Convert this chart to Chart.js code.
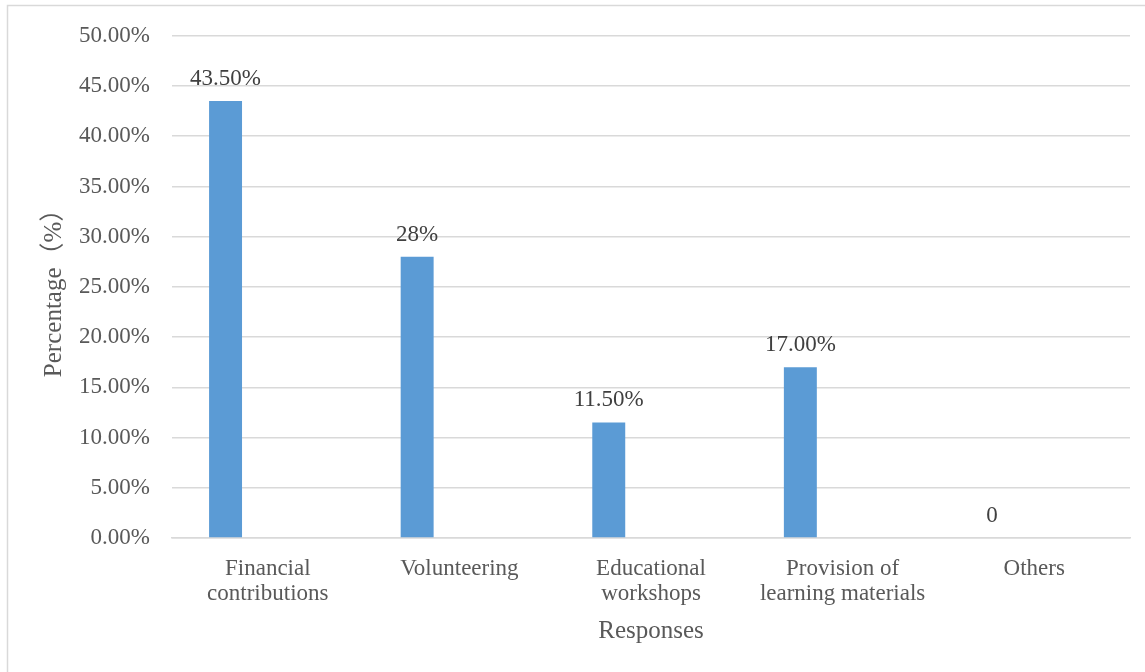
<!DOCTYPE html>
<html>
<head>
<meta charset="utf-8">
<title>Responses</title>
<script src="https://cdn.jsdelivr.net/npm/chart.js@4.4.1/dist/chart.umd.min.js"></script>
<style>
  html, body { margin: 0; padding: 0; background: #ffffff; }
  #wrap { position: relative; width: 1145px; height: 672px; }
</style>
</head>
<body>
<div id="wrap"><canvas id="chart" width="1145" height="672"></canvas></div>
<script>
// Response categories (multi-line labels as drawn under the axis)
const categories = [
  ['Financial', 'contributions'],
  ['Volunteering'],
  ['Educational', 'workshops'],
  ['Provision of', 'learning materials'],
  ['Others']
];
// Share of respondents per response, in percent
const percentages = [43.5, 28, 11.5, 17, 0];
// Value labels printed above each bar
const valueLabels = ['43.50%', '28%', '11.50%', '17.00%', '0'];
// Second, empty series kept in the group so the bars sit left of centre
const emptySeries = [null, null, null, null, null];

const serif = "'Liberation Serif', 'Times New Roman', 'Noto Sans CJK SC', serif";
const tickGrey = '#595959';
const gridGrey = '#d9d9d9';

// Writes the value label above each bar of the first dataset
const barValueLabels = {
  id: 'barValueLabels',
  afterDatasetsDraw(chart) {
    const ctx = chart.ctx;
    const meta = chart.getDatasetMeta(0);
    ctx.save();
    ctx.font = '23px ' + serif;
    ctx.fillStyle = '#404040';
    ctx.textAlign = 'center';
    ctx.textBaseline = 'alphabetic';
    meta.data.forEach((bar, i) => {
      ctx.fillText(valueLabels[i], bar.x, bar.y - 16);
    });
    ctx.restore();
  }
};

// Thin frame along the top and left edges of the chart
const chartFrame = {
  id: 'chartFrame',
  beforeDraw(chart) {
    const ctx = chart.ctx;
    ctx.save();
    ctx.strokeStyle = gridGrey;
    ctx.lineWidth = 1.5;
    ctx.beginPath();
    ctx.moveTo(7.5, chart.height + 2);
    ctx.lineTo(7.5, 5.5);
    ctx.lineTo(chart.width + 2, 5.5);
    ctx.stroke();
    ctx.restore();
  }
};

new Chart(document.getElementById('chart'), {
  type: 'bar',
  data: {
    labels: categories,
    datasets: [
      {
        label: 'Percentage',
        data: percentages,
        backgroundColor: '#5b9bd5',
        borderWidth: 0
      },
      {
        label: 'Series 2',
        data: emptySeries,
        backgroundColor: '#ed7d31',
        borderWidth: 0
      }
    ]
  },
  options: {
    responsive: false,
    animation: false,
    devicePixelRatio: 1,
    categoryPercentage: 0.882,
    barPercentage: 0.39,
    layout: { padding: { left: 0, top: 34, right: 15, bottom: 0 } },
    plugins: {
      legend: { display: false },
      tooltip: { enabled: false }
    },
    scales: {
      x: {
        grid: { display: false, drawTicks: false },
        border: { display: true, color: gridGrey, width: 1.5 },
        ticks: {
          color: tickGrey,
          font: { family: serif, size: 23, lineHeight: 1.08 },
          padding: 19,
          maxRotation: 0,
          autoSkip: false
        },
        title: {
          display: true,
          text: 'Responses',
          color: tickGrey,
          font: { family: serif, size: 25, lineHeight: 1.2 },
          padding: { top: 0, bottom: 26 }
        },
        afterFit(scale) { scale.height = 134; }
      },
      y: {
        min: 0,
        max: 50,
        grid: { color: gridGrey, lineWidth: 1.5, drawTicks: false },
        border: { display: false },
        ticks: {
          stepSize: 5,
          color: tickGrey,
          font: { family: serif, size: 23 },
          padding: 22,
          callback: (v) => v.toFixed(2) + '%'
        },
        title: {
          display: true,
          text: 'Percentage（%）',
          color: tickGrey,
          font: { family: serif, size: 25, lineHeight: 1.2 },
          padding: { top: 39, bottom: 0 }
        },
        afterFit(scale) { scale.width = 172; }
      }
    }
  },
  plugins: [chartFrame, barValueLabels]
});
</script>
</body>
</html>
